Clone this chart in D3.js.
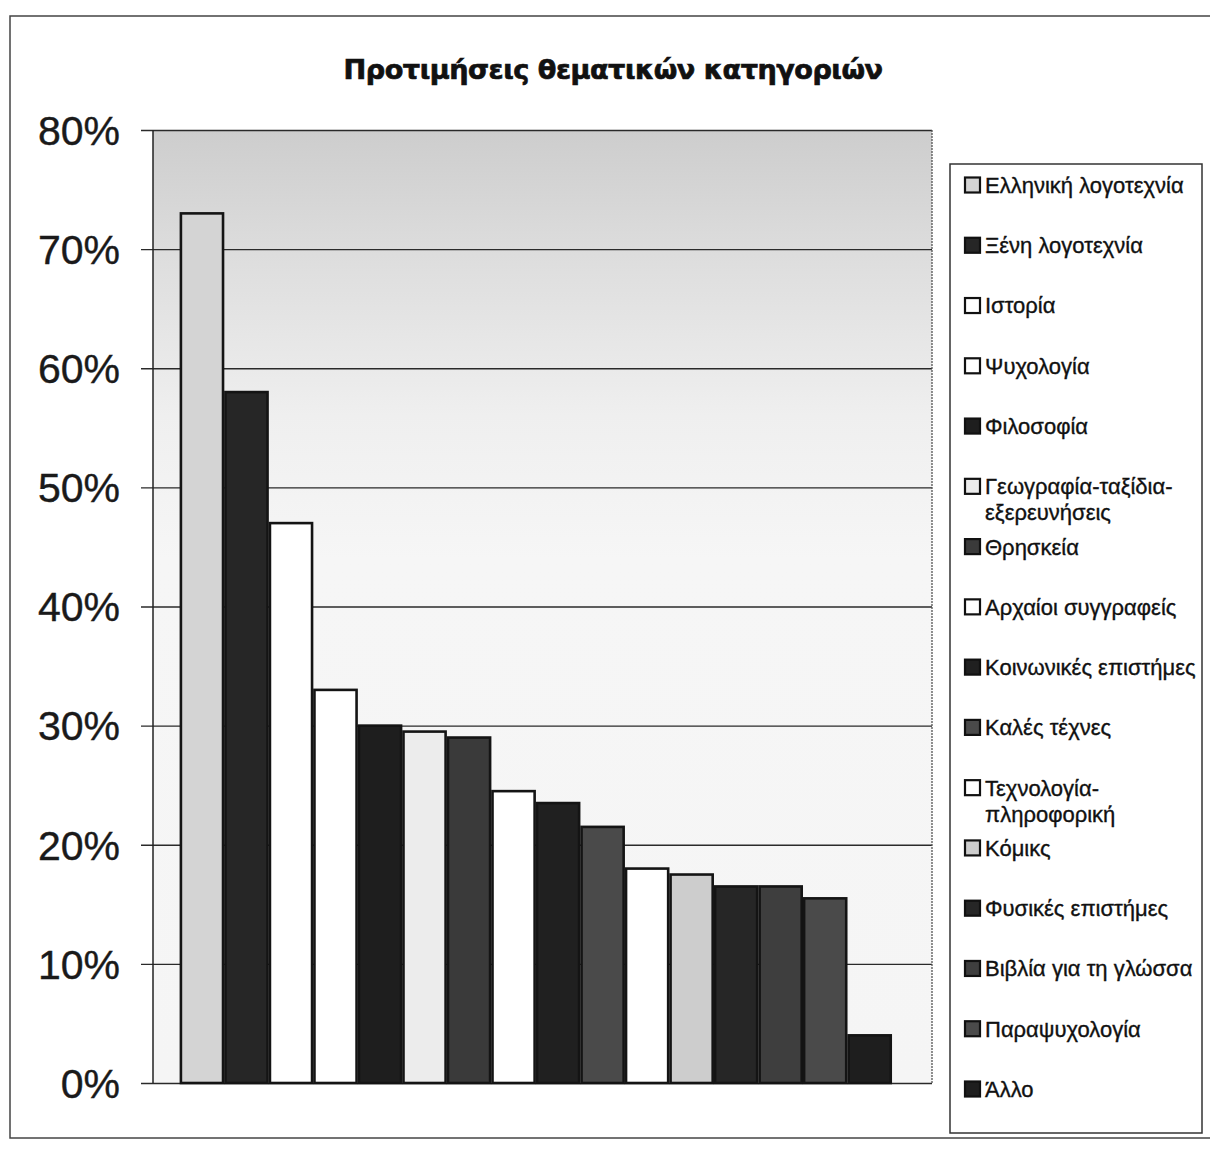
<!DOCTYPE html>
<html>
<head>
<meta charset="utf-8">
<script src="https://cdn.jsdelivr.net/npm/d3@7"></script>
<style>
  html, body { margin: 0; padding: 0; background: #ffffff; }
  svg { display: block; }
</style>
</head>
<body>
<div id="chart"></div>
<script>
// ---- data ----
const categories = [
  "Ελληνική λογοτεχνία", "Ξένη λογοτεχνία", "Ιστορία", "Ψυχολογία", "Φιλοσοφία",
  "Γεωγραφία-ταξίδια-εξερευνήσεις", "Θρησκεία", "Αρχαίοι συγγραφείς",
  "Κοινωνικές επιστήμες", "Καλές τέχνες", "Τεχνολογία-πληροφορική", "Κόμικς",
  "Φυσικές επιστήμες", "Βιβλία για τη γλώσσα", "Παραψυχολογία", "Άλλο"
];
const legendLines = [
  ["Ελληνική λογοτεχνία"], ["Ξένη λογοτεχνία"], ["Ιστορία"], ["Ψυχολογία"], ["Φιλοσοφία"],
  ["Γεωγραφία-ταξίδια-", "εξερευνήσεις"], ["Θρησκεία"], ["Αρχαίοι συγγραφείς"],
  ["Κοινωνικές επιστήμες"], ["Καλές τέχνες"], ["Τεχνολογία-", "πληροφορική"], ["Κόμικς"],
  ["Φυσικές επιστήμες"], ["Βιβλία για τη γλώσσα"], ["Παραψυχολογία"], ["Άλλο"]
];
const values = [73, 58, 47, 33, 30, 29.5, 29, 24.5, 23.5, 21.5, 18, 17.5, 16.5, 16.5, 15.5, 4];
const yTicks = [0, 10, 20, 30, 40, 50, 60, 70, 80];
const title = "Προτιμήσεις θεματικών κατηγοριών";
const fills = ["#d4d4d4", "#262626", "#ffffff", "#ffffff", "#1e1e1e", "#ececec", "#3a3a3a", "#ffffff",
               "#202020", "#4a4a4a", "#ffffff", "#cdcdcd", "#262626", "#3e3e3e", "#4a4a4a", "#1e1e1e"];

// ---- layout ----
const W = 1210, H = 1158;
const plot = { left: 153, right: 932, top: 130, bottom: 1083 };

const svg = d3.select("#chart").append("svg").attr("width", W).attr("height", H);
const defs = svg.append("defs");
const grad = defs.append("linearGradient").attr("id", "wall").attr("x1", 0).attr("y1", 0).attr("x2", 0).attr("y2", 1);
[["0%", "#cdcdcd"], ["14%", "#dedede"], ["30%", "#efefef"], ["45%", "#f6f6f6"], ["100%", "#f5f5f5"]]
  .forEach(([o, c]) => grad.append("stop").attr("offset", o).attr("stop-color", c));

// outer frame
svg.append("rect").attr("x", 10).attr("y", 16).attr("width", 1220).attr("height", 1122)
  .attr("fill", "none").attr("stroke", "#444").attr("stroke-width", 1.5);

// title
const t = svg.append("text").attr("x", 613).attr("y", 79).attr("text-anchor", "middle")
  .attr("font-family", "DejaVu Sans, Verdana, sans-serif").attr("font-weight", "bold")
  .attr("font-size", 24).attr("fill", "#111").attr("stroke", "#111").attr("stroke-width", 0.7)
  .attr("letter-spacing", -0.5).text(title);
const tw = t.node().getComputedTextLength();
t.attr("font-size", 24 * 537 / tw);

// scales
const x = d3.scaleBand().domain(categories).range([plot.left, plot.right])
  .paddingInner(0).paddingOuter(0.75).align(0.4);
const y = d3.scaleLinear().domain([0, 80]).range([plot.bottom, plot.top]);

// back wall
svg.append("rect").attr("x", plot.left).attr("y", plot.top)
  .attr("width", plot.right - plot.left).attr("height", plot.bottom - plot.top)
  .attr("fill", "url(#wall)");

// gridlines + axis
const yAxis = d3.axisLeft(y).tickValues(yTicks).tickFormat(d => d + "%")
  .tickSize(-(plot.right - plot.left)).tickPadding(0);
const ga = svg.append("g").attr("transform", `translate(${plot.left},0)`).call(yAxis);
ga.select(".domain").remove();
ga.selectAll(".tick line").attr("stroke", "#2a2a2a").attr("stroke-width", 1.3).attr("x1", -12);
ga.selectAll(".tick text").attr("x", -33).attr("dy", "0.35em")
  .attr("font-family", "Liberation Sans, Arial, sans-serif").attr("font-size", 41).attr("fill", "#1a1a1a")
  .attr("stroke", "#1a1a1a").attr("stroke-width", 0.4);

// left axis line and right wall edge
svg.append("line").attr("x1", plot.left).attr("x2", plot.left).attr("y1", plot.top).attr("y2", plot.bottom)
  .attr("stroke", "#222").attr("stroke-width", 1.5);
svg.append("line").attr("x1", plot.right).attr("x2", plot.right).attr("y1", plot.top).attr("y2", plot.bottom)
  .attr("stroke", "#555").attr("stroke-width", 1.3).attr("stroke-dasharray", "2,1");

// bars
svg.append("g").selectAll("rect").data(categories).join("rect")
  .attr("x", d => x(d) + 1.2)
  .attr("y", (d, i) => y(values[i]))
  .attr("width", x.bandwidth() - 2.4)
  .attr("height", (d, i) => y(0) - y(values[i]))
  .attr("fill", (d, i) => fills[i])
  .attr("stroke", "#141414").attr("stroke-width", 2.6);

// legend
const lg = svg.append("g");
lg.append("rect").attr("x", 950).attr("y", 164).attr("width", 252).attr("height", 969)
  .attr("fill", "#fff").attr("stroke", "#333").attr("stroke-width", 1.5);
const ly = d3.scalePoint().domain(categories).range([185, 1089]);
const items = lg.selectAll("g.item").data(categories).join("g").attr("class", "item")
  .attr("transform", d => `translate(0,${ly(d)})`);
items.append("rect").attr("x", 965).attr("y", -7.5).attr("width", 15).attr("height", 15)
  .attr("fill", (d, i) => fills[i]).attr("stroke", "#111").attr("stroke-width", 2.2);
items.each(function (d, i) {
  const txt = d3.select(this).append("text").attr("x", 985).attr("y", 0)
    .attr("font-family", "Liberation Sans, Arial, sans-serif").attr("font-size", 22).attr("fill", "#111")
    .attr("stroke", "#111").attr("stroke-width", 0.35);
  legendLines[i].forEach((line, k) => {
    txt.append("tspan").attr("x", 985).attr("dy", k === 0 ? "0.36em" : "1.18em").text(line);
  });
});
</script>
</body>
</html>
